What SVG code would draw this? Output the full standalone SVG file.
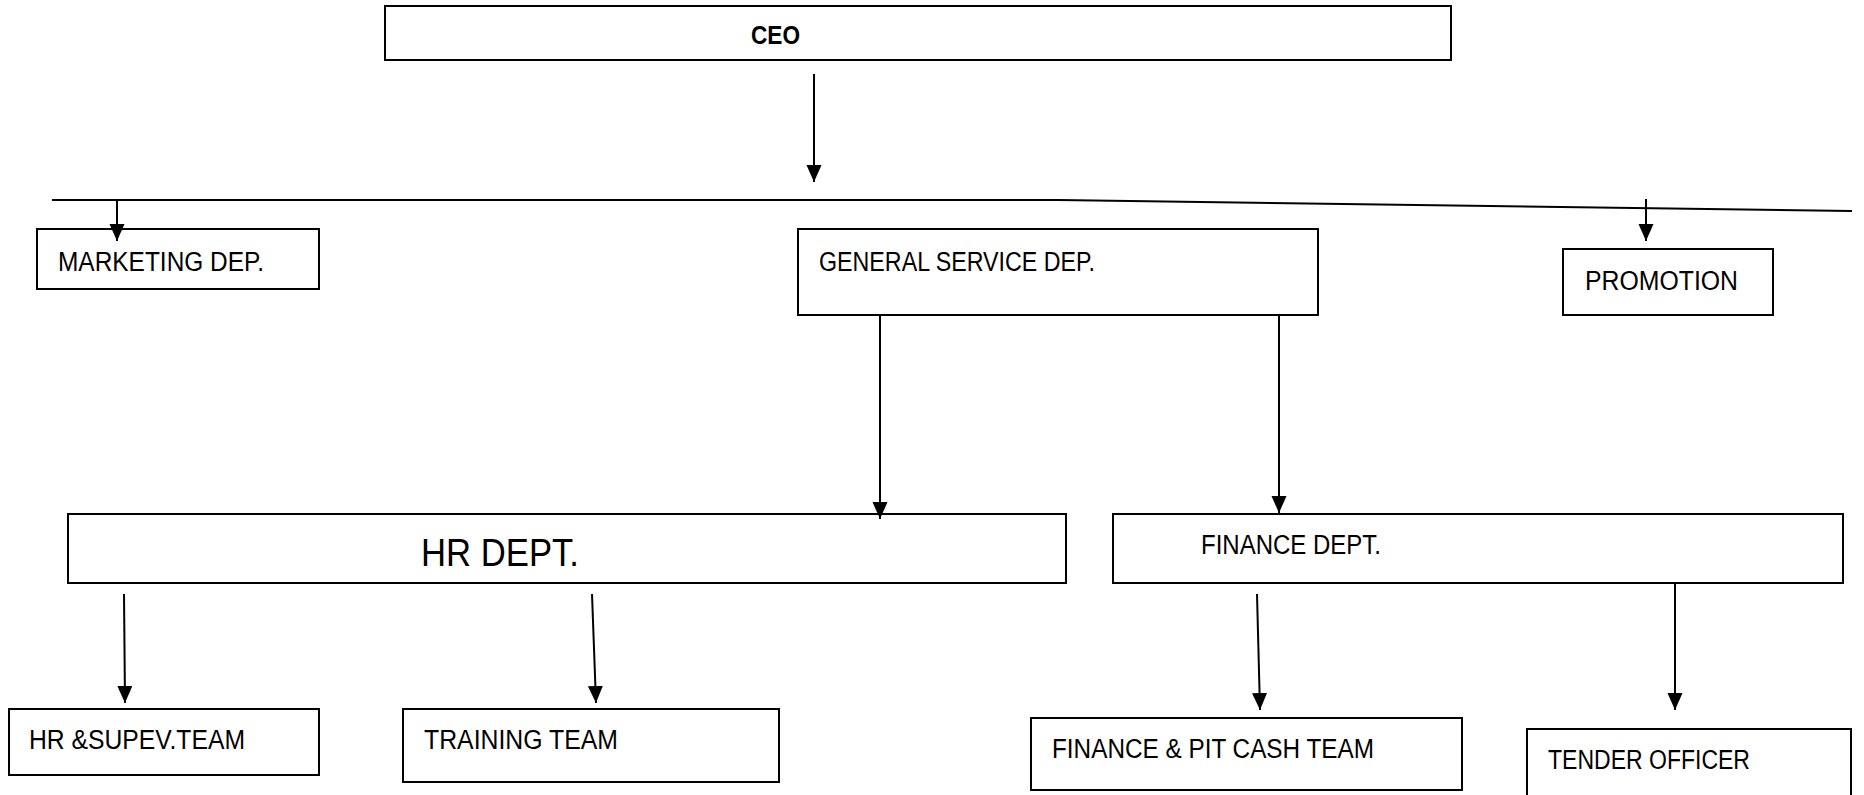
<svg xmlns="http://www.w3.org/2000/svg" width="1864" height="795" viewBox="0 0 1864 795">
<style>
.box{fill:#fff;stroke:#000;stroke-width:2}
.lbl{font-family:"Liberation Sans",Arial,sans-serif;font-size:27px;fill:#000}
.big{font-family:"Liberation Sans",Arial,sans-serif;font-size:38px;fill:#000}
.bold{font-family:"Liberation Sans",Arial,sans-serif;font-size:25px;font-weight:bold;fill:#000}
.con{fill:none;stroke:#000;stroke-width:2}
</style>
<defs>
<marker id="ah" markerUnits="userSpaceOnUse" markerWidth="18" markerHeight="16" refX="17" refY="7.5" orient="auto">
<path d="M0,0 L17,7.5 L0,15 Z" fill="#000"/>
</marker>
</defs>
<rect width="1864" height="795" fill="#fff"/>
<g id="ceo"><rect class="box" x="385" y="6" width="1066" height="54"/><text class="bold" x="751" y="44" textLength="49" lengthAdjust="spacingAndGlyphs">CEO</text></g>
<g id="marketing"><rect class="box" x="37" y="229" width="282" height="60"/><text class="lbl" x="58" y="271" textLength="206" lengthAdjust="spacingAndGlyphs">MARKETING DEP.</text></g>
<g id="general"><rect class="box" x="798" y="229" width="520" height="86"/><text class="lbl" x="819" y="271" textLength="276" lengthAdjust="spacingAndGlyphs">GENERAL SERVICE DEP.</text></g>
<g id="promotion"><rect class="box" x="1563" y="249" width="210" height="66"/><text class="lbl" x="1585" y="290" textLength="153" lengthAdjust="spacingAndGlyphs">PROMOTION</text></g>
<g id="hr"><rect class="box" x="68" y="514" width="998" height="69"/><text class="big" x="421" y="566" textLength="158" lengthAdjust="spacingAndGlyphs">HR DEPT.</text></g>
<g id="finance"><rect class="box" x="1113" y="514" width="730" height="69"/><text class="lbl" x="1201" y="554" textLength="180" lengthAdjust="spacingAndGlyphs">FINANCE DEPT.</text></g>
<g id="hrsupev"><rect class="box" x="9" y="709" width="310" height="66"/><text class="lbl" x="29" y="749" textLength="216" lengthAdjust="spacingAndGlyphs">HR &amp;SUPEV.TEAM</text></g>
<g id="training"><rect class="box" x="403" y="709" width="376" height="73"/><text class="lbl" x="424" y="749" textLength="194" lengthAdjust="spacingAndGlyphs">TRAINING TEAM</text></g>
<g id="pitcash"><rect class="box" x="1031" y="718" width="431" height="72"/><text class="lbl" x="1052" y="758" textLength="322" lengthAdjust="spacingAndGlyphs">FINANCE &amp; PIT CASH TEAM</text></g>
<g id="tender"><rect class="box" x="1527" y="729" width="324" height="80"/><text class="lbl" x="1548" y="769" textLength="202" lengthAdjust="spacingAndGlyphs">TENDER OFFICER</text></g>
<g id="connectors">
<polyline class="con" points="52,200 1058,200 1852,211"/>
<line class="con" x1="814" y1="74" x2="814" y2="182" marker-end="url(#ah)"/>
<line class="con" x1="117" y1="200" x2="117" y2="241" marker-end="url(#ah)"/>
<line class="con" x1="1646" y1="199" x2="1646" y2="241" marker-end="url(#ah)"/>
<line class="con" x1="880" y1="315" x2="880" y2="519" marker-end="url(#ah)"/>
<line class="con" x1="1279" y1="315" x2="1279" y2="513" marker-end="url(#ah)"/>
<line class="con" x1="124" y1="594" x2="125" y2="703" marker-end="url(#ah)"/>
<line class="con" x1="592" y1="594" x2="596" y2="703" marker-end="url(#ah)"/>
<line class="con" x1="1257" y1="594" x2="1260" y2="710" marker-end="url(#ah)"/>
<line class="con" x1="1675" y1="583" x2="1675" y2="710" marker-end="url(#ah)"/>
</g>
</svg>
